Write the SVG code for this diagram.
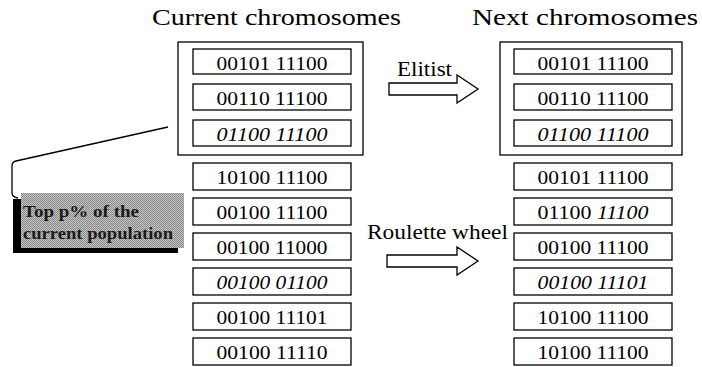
<svg xmlns="http://www.w3.org/2000/svg" width="702" height="367" viewBox="0 0 702 367">
  <style>
    .title { font-family: "Liberation Serif", "Times New Roman", serif; font-size: 24px; fill: #000; }
    .label { font-family: "Liberation Serif", "Times New Roman", serif; font-size: 20px; fill: #000; }
    .gene { font-family: "Liberation Serif", "Times New Roman", serif; font-size: 18px; fill: #000; text-anchor: middle; }
    .it { font-style: italic; }
    .box { fill: #fff; stroke: #000; stroke-width: 1.3; }
    .frame { fill: none; stroke: #000; stroke-width: 1.3; }
    .block-arrow { fill: #fff; stroke: #000; stroke-width: 1.3; stroke-linejoin: miter; }
    .leader { fill: none; stroke: #000; stroke-width: 1.3; }
    .note { font-family: "Liberation Serif", "Times New Roman", serif; font-size: 16px; font-weight: bold; fill: #1a1a1a; }
  </style>
  <defs>
    <!-- dithered grey used for the note box -->
    <pattern id="dither" width="2" height="2" patternUnits="userSpaceOnUse">
      <rect width="2" height="2" fill="#c4c4c4"/>
      <rect width="1" height="1" fill="#8a8a8a"/>
      <rect x="1" y="1" width="1" height="1" fill="#8a8a8a"/>
    </pattern>
  </defs>

  <rect width="702" height="367" fill="#fff"/>

  <!-- column headings -->
  <text class="title" x="152" y="25" textLength="249" lengthAdjust="spacingAndGlyphs">Current chromosomes</text>
  <text class="title" x="472" y="25" textLength="226" lengthAdjust="spacingAndGlyphs">Next chromosomes</text>

  <!-- current population -->
  <g id="current-elite">
    <rect class="frame" x="178" y="42" width="185" height="113"/>
  </g>
  <g id="cur-1"><rect class="box" x="193" y="49" width="158" height="25"/><text class="gene" x="272" y="69.5" textLength="111" lengthAdjust="spacingAndGlyphs">00101 11100</text></g>
  <g id="cur-2"><rect class="box" x="193" y="84" width="158" height="26"/><text class="gene" x="272" y="104.5" textLength="111" lengthAdjust="spacingAndGlyphs">00110 11100</text></g>
  <g id="cur-3"><rect class="box" x="193" y="120" width="158" height="26"/><text class="gene it" x="272" y="140.5" textLength="111" lengthAdjust="spacingAndGlyphs">01100 11100</text></g>
  <g id="cur-4"><rect class="box" x="193" y="163" width="158" height="27"/><text class="gene" x="272" y="184" textLength="111" lengthAdjust="spacingAndGlyphs">10100 11100</text></g>
  <g id="cur-5"><rect class="box" x="193" y="198" width="158" height="27"/><text class="gene" x="272" y="219" textLength="111" lengthAdjust="spacingAndGlyphs">00100 11100</text></g>
  <g id="cur-6"><rect class="box" x="193" y="233" width="158" height="27"/><text class="gene" x="272" y="254" textLength="111" lengthAdjust="spacingAndGlyphs">00100 11000</text></g>
  <g id="cur-7"><rect class="box" x="193" y="268" width="158" height="27"/><text class="gene it" x="272" y="289" textLength="111" lengthAdjust="spacingAndGlyphs">00100 01100</text></g>
  <g id="cur-8"><rect class="box" x="193" y="303" width="158" height="27"/><text class="gene" x="272" y="324" textLength="111" lengthAdjust="spacingAndGlyphs">00100 11101</text></g>
  <g id="cur-9"><rect class="box" x="193" y="338" width="158" height="27"/><text class="gene" x="272" y="359" textLength="111" lengthAdjust="spacingAndGlyphs">00100 11110</text></g>

  <!-- next population -->
  <g id="next-elite">
    <rect class="frame" x="500" y="42" width="182" height="113"/>
  </g>
  <g id="next-1"><rect class="box" x="514" y="49" width="158" height="25"/><text class="gene" x="593" y="69.5" textLength="111" lengthAdjust="spacingAndGlyphs">00101 11100</text></g>
  <g id="next-2"><rect class="box" x="514" y="84" width="158" height="26"/><text class="gene" x="593" y="104.5" textLength="111" lengthAdjust="spacingAndGlyphs">00110 11100</text></g>
  <g id="next-3"><rect class="box" x="514" y="120" width="158" height="26"/><text class="gene it" x="593" y="140.5" textLength="111" lengthAdjust="spacingAndGlyphs">01100 11100</text></g>
  <g id="next-4"><rect class="box" x="514" y="163" width="158" height="27"/><text class="gene" x="593" y="184" textLength="111" lengthAdjust="spacingAndGlyphs">00101 11100</text></g>
  <g id="next-5"><rect class="box" x="514" y="198" width="158" height="27"/><text class="gene" x="593" y="219" textLength="111" lengthAdjust="spacingAndGlyphs">01100 <tspan class="it">11100</tspan></text></g>
  <g id="next-6"><rect class="box" x="514" y="233" width="158" height="27"/><text class="gene" x="593" y="254" textLength="111" lengthAdjust="spacingAndGlyphs">00100 11100</text></g>
  <g id="next-7"><rect class="box" x="514" y="268" width="158" height="27"/><text class="gene it" x="593" y="289" textLength="111" lengthAdjust="spacingAndGlyphs">00100 11101</text></g>
  <g id="next-8"><rect class="box" x="514" y="303" width="158" height="27"/><text class="gene" x="593" y="324" textLength="111" lengthAdjust="spacingAndGlyphs">10100 11100</text></g>
  <g id="next-9"><rect class="box" x="514" y="338" width="158" height="27"/><text class="gene" x="593" y="359" textLength="111" lengthAdjust="spacingAndGlyphs">10100 11100</text></g>

  <!-- note about the elite share -->
  <g id="note">
    <rect x="13" y="199" width="165" height="54" fill="#000"/>
    <rect x="21" y="193" width="163" height="55" fill="url(#dither)"/>
    <text class="note" x="23" y="217" textLength="116" lengthAdjust="spacingAndGlyphs">Top p% of the</text>
    <text class="note" x="23" y="239" textLength="150" lengthAdjust="spacingAndGlyphs">current population</text>
  </g>

  <!-- connectors -->
  <g id="connectors">
    <path class="leader" d="M168,127 L16,161 Q12,162 12,166 L12,193 Q12,197 18,198"/>
    <g id="elitist">
      <polygon class="block-arrow" points="389,83 457,83 457,75 478,89 457,103 457,95 389,95"/>
      <text class="label" x="397" y="76" textLength="55" lengthAdjust="spacingAndGlyphs">Elitist</text>
    </g>
    <g id="roulette">
      <polygon class="block-arrow" points="387,255 457,255 457,247 478,261 457,275 457,267 387,267"/>
      <text class="label" x="367" y="239" textLength="141" lengthAdjust="spacingAndGlyphs">Roulette wheel</text>
    </g>
  </g>
</svg>
